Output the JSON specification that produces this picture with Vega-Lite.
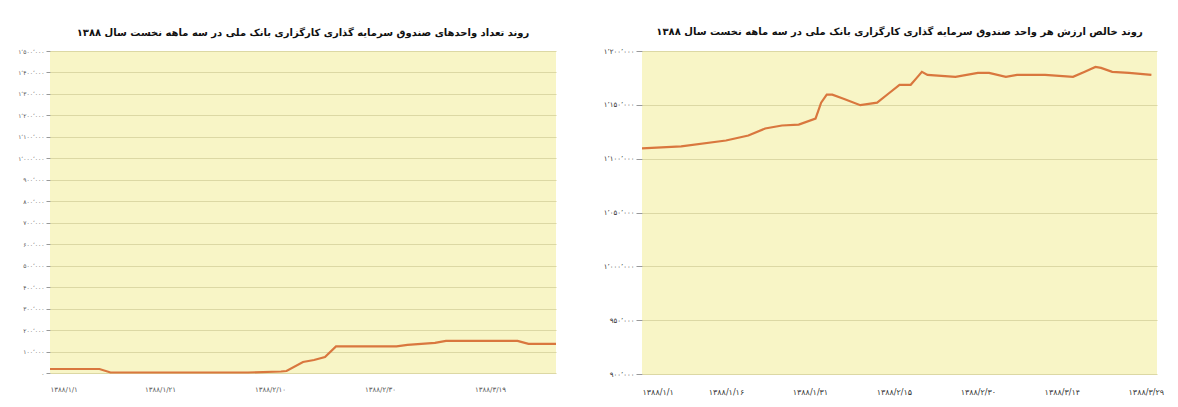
{
  "$schema": "https://vega.github.io/schema/vega-lite/v6.json",
  "background": "white",
  "padding": {"left": 17, "top": 27, "right": 5, "bottom": 5},
  "spacing": 42,
  "config": {
    "font": "DejaVu Sans",
    "view": {"fill": "#F8F5C6", "stroke": null},
    "axis": {
      "labelFont": "DejaVu Sans",
      "labelFontSize": 7,
      "labelColor": "#555555",
      "gridColor": "#DCD8A4",
      "gridWidth": 1,
      "tickColor": "#999999",
      "domain": false,
      "title": null
    },
    "title": {"font": "DejaVu Sans", "fontSize": 10, "fontWeight": "bold", "color": "#111111", "offset": 10}
  },
  "datasets": {
    "units": [
      {"day": 0, "units": 18700},
      {"day": 9, "units": 18700},
      {"day": 11, "units": 2300},
      {"day": 36, "units": 2300},
      {"day": 42, "units": 7000},
      {"day": 43, "units": 9300},
      {"day": 46, "units": 51400},
      {"day": 48, "units": 60700},
      {"day": 50, "units": 74800},
      {"day": 52, "units": 123800},
      {"day": 63, "units": 123800},
      {"day": 65, "units": 130800},
      {"day": 70, "units": 140200},
      {"day": 72, "units": 149500},
      {"day": 85, "units": 149500},
      {"day": 87, "units": 135500},
      {"day": 92, "units": 135500}
    ],
    "nav": [
      {"day": 0, "nav": 1109600},
      {"day": 7, "nav": 1111400},
      {"day": 15, "nav": 1116900},
      {"day": 19, "nav": 1121500},
      {"day": 22, "nav": 1128000},
      {"day": 25, "nav": 1130800},
      {"day": 28, "nav": 1131700},
      {"day": 31, "nav": 1137200},
      {"day": 32, "nav": 1152000},
      {"day": 33, "nav": 1159400},
      {"day": 34, "nav": 1159400},
      {"day": 36, "nav": 1155700},
      {"day": 39, "nav": 1149700},
      {"day": 42, "nav": 1152000},
      {"day": 44, "nav": 1160300},
      {"day": 46, "nav": 1168600},
      {"day": 48, "nav": 1168600},
      {"day": 49, "nav": 1174600},
      {"day": 50, "nav": 1180600},
      {"day": 51, "nav": 1177800},
      {"day": 56, "nav": 1176000},
      {"day": 60, "nav": 1179700},
      {"day": 62, "nav": 1179700},
      {"day": 65, "nav": 1176000},
      {"day": 67, "nav": 1177800},
      {"day": 72, "nav": 1177800},
      {"day": 77, "nav": 1176000},
      {"day": 79, "nav": 1180600},
      {"day": 81, "nav": 1185200},
      {"day": 82, "nav": 1184300},
      {"day": 84, "nav": 1180600},
      {"day": 87, "nav": 1179700},
      {"day": 91, "nav": 1177800}
    ]
  },
  "hconcat": [
    {
      "width": 506,
      "height": 322,
      "title": {"text": "روند تعداد واحدهای صندوق سرمایه گذاری کارگزاری بانک ملی در سه ماهه نخست سال ۱۳۸۸"},
      "data": {"name": "units"},
      "mark": {"type": "line", "color": "#D9773E", "strokeWidth": 2.2},
      "encoding": {
        "x": {
          "field": "day",
          "type": "quantitative",
          "scale": {"domain": [0, 92], "nice": false, "zero": false},
          "axis": {
            "values": [0, 20, 40, 60, 80],
            "labelExpr": "['۱۳۸۸/۱/۱','۱۳۸۸/۱/۲۱','۱۳۸۸/۲/۱۰','۱۳۸۸/۲/۳۰','۱۳۸۸/۳/۱۹'][round(datum.value/20)]",
            "grid": false,
            "ticks": false,
            "labelPadding": 12,
            "labelFontSize": 7
          }
        },
        "y": {
          "field": "units",
          "type": "quantitative",
          "scale": {"domain": [0, 1500000], "nice": false},
          "axis": {
            "values": [0, 100000, 200000, 300000, 400000, 500000, 600000, 700000, 800000, 900000, 1000000, 1100000, 1200000, 1300000, 1400000, 1500000],
            "labelExpr": "['۰','۱۰۰٬۰۰۰','۲۰۰٬۰۰۰','۳۰۰٬۰۰۰','۴۰۰٬۰۰۰','۵۰۰٬۰۰۰','۶۰۰٬۰۰۰','۷۰۰٬۰۰۰','۸۰۰٬۰۰۰','۹۰۰٬۰۰۰','۱٬۰۰۰٬۰۰۰','۱٬۱۰۰٬۰۰۰','۱٬۲۰۰٬۰۰۰','۱٬۳۰۰٬۰۰۰','۱٬۴۰۰٬۰۰۰','۱٬۵۰۰٬۰۰۰'][round(datum.value/100000)]",
            "tickSize": 4,
            "labelFontSize": 6
          }
        }
      }
    },
    {
      "width": 515,
      "height": 323,
      "title": {"text": "روند خالص ارزش هر واحد صندوق سرمایه گذاری کارگزاری بانک ملی در سه ماهه نخست سال ۱۳۸۸"},
      "data": {"name": "nav"},
      "mark": {"type": "line", "color": "#D9773E", "strokeWidth": 2.2},
      "encoding": {
        "x": {
          "field": "day",
          "type": "quantitative",
          "scale": {"domain": [0, 92], "nice": false, "zero": false},
          "axis": {
            "values": [0, 15, 30, 45, 60, 75, 90],
            "labelExpr": "['۱۳۸۸/۱/۱','۱۳۸۸/۱/۱۶','۱۳۸۸/۱/۳۱','۱۳۸۸/۲/۱۵','۱۳۸۸/۲/۳۰','۱۳۸۸/۳/۱۴','۱۳۸۸/۳/۲۹'][round(datum.value/15)]",
            "grid": false,
            "ticks": false,
            "labelPadding": 14,
            "labelFontSize": 8,
            "labelColor": "#333333"
          }
        },
        "y": {
          "field": "nav",
          "type": "quantitative",
          "scale": {"domain": [900000, 1200000], "nice": false, "zero": false},
          "axis": {
            "values": [900000, 950000, 1000000, 1050000, 1100000, 1150000, 1200000],
            "labelExpr": "['۹۰۰٬۰۰۰','۹۵۰٬۰۰۰','۱٬۰۰۰٬۰۰۰','۱٬۰۵۰٬۰۰۰','۱٬۱۰۰٬۰۰۰','۱٬۱۵۰٬۰۰۰','۱٬۲۰۰٬۰۰۰'][round((datum.value-900000)/50000)]",
            "tickSize": 6,
            "labelFontSize": 7,
            "labelColor": "#333333"
          }
        }
      }
    }
  ]
}
